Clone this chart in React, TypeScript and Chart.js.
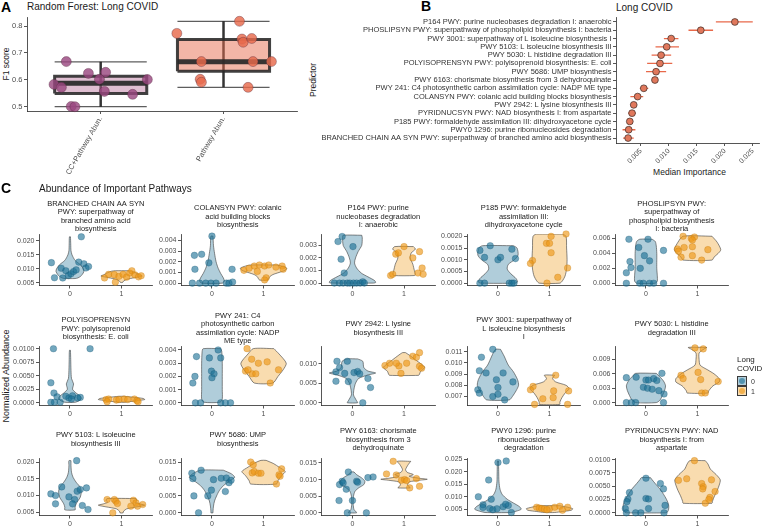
import React, { useEffect, useRef } from 'react';
import { Chart, registerables } from 'chart.js';

Chart.register(...registerables);
const FONT = "'Liberation Sans', Arial, Helvetica, sans-serif";
Chart.defaults.font.family = FONT;

// ---------------- Panel A data ----------------
const modelNames = ['CC+Pathway Abun.', 'Pathway Abun.'];
const f1Min = [0.5, 0.572];
const f1Q1 = [0.549, 0.632];
const f1Median = [0.587, 0.667];
const f1Q3 = [0.613, 0.75];
const f1Max = [0.667, 0.818];
const f1CCPathway = [[-0.28, 0.668], [-0.1, 0.624], [0.04, 0.628], [-0.38, 0.583], [-0.32, 0.572], [-0.01, 0.602], [0.03, 0.557], [0.26, 0.546], [0.38, 0.601], [-0.24, 0.501], [-0.21, 0.5]];
const f1Pathway = [[-0.38, 0.773], [-0.18, 0.668], [-0.19, 0.602], [-0.18, 0.591], [0.13, 0.818], [0.15, 0.752], [0.16, 0.74], [0.23, 0.754], [0.24, 0.668], [0.39, 0.668], [0.2, 0.572]];

// ---------------- Panel B data ----------------
const predictors = [
  'P164 PWY: purine nucleobases degradation I: anaerobic',
  'PHOSLIPSYN PWY: superpathway of phospholipid biosynthesis I: bacteria',
  'PWY 3001: superpathway of L isoleucine biosynthesis I',
  'PWY 5103: L isoleucine biosynthesis III',
  'PWY 5030: L histidine degradation III',
  'POLYISOPRENSYN PWY: polyisoprenoid biosynthesis: E. coli',
  'PWY 5686: UMP biosynthesis',
  'PWY 6163: chorismate biosynthesis from 3 dehydroquinate',
  'PWY 241: C4 photosynthetic carbon assimilation cycle: NADP ME type',
  'COLANSYN PWY: colanic acid building blocks biosynthesis',
  'PWY 2942: L lysine biosynthesis III',
  'PYRIDNUCSYN PWY: NAD biosynthesis I: from aspartate',
  'P185 PWY: formaldehyde assimilation III: dihydroxyacetone cycle',
  'PWY0 1296: purine ribonucleosides degradation',
  'BRANCHED CHAIN AA SYN PWY: superpathway of branched amino acid biosynthesis',
];
const medianImportance = [0.0218, 0.0157, 0.0104, 0.0096, 0.0086, 0.0084, 0.0077, 0.0075, 0.0055, 0.0044, 0.0037, 0.0034, 0.003, 0.0028, 0.0027];
const importanceLow = [0.0184, 0.0135, 0.0091, 0.0076, 0.0069, 0.0061, 0.0059, 0.0072, 0.0048, 0.0031, 0.0033, 0.0027, 0.0025, 0.0017, 0.0018];
const importanceHigh = [0.025, 0.0179, 0.0117, 0.0118, 0.0104, 0.0106, 0.0095, 0.0078, 0.0063, 0.0054, 0.0041, 0.0041, 0.0034, 0.004, 0.0037];
const importanceTicks = [0.005, 0.01, 0.015, 0.02, 0.025];

// ---------------- Panel C data ----------------
const pathwayTitles = [
  ['BRANCHED CHAIN AA SYN', 'PWY: superpathway of', 'branched amino acid', 'biosynthesis'],
  ['COLANSYN PWY: colanic', 'acid building blocks', 'biosynthesis'],
  ['P164 PWY: purine', 'nucleobases degradation', 'I: anaerobic'],
  ['P185 PWY: formaldehyde', 'assimilation III:', 'dihydroxyacetone cycle'],
  ['PHOSLIPSYN PWY:', 'superpathway of', 'phospholipid biosynthesis', 'I: bacteria'],
  ['POLYISOPRENSYN', 'PWY: polyisoprenoid', 'biosynthesis: E. coli'],
  ['PWY 241: C4', 'photosynthetic carbon', 'assimilation cycle: NADP', 'ME type'],
  ['PWY 2942: L lysine', 'biosynthesis III'],
  ['PWY 3001: superpathway of', 'L isoleucine biosynthesis', 'I'],
  ['PWY 5030: L histidine', 'degradation III'],
  ['PWY 5103: L isoleucine', 'biosynthesis III'],
  ['PWY 5686: UMP', 'biosynthesis'],
  ['PWY 6163: chorismate', 'biosynthesis from 3', 'dehydroquinate'],
  ['PWY0 1296: purine', 'ribonucleosides', 'degradation'],
  ['PYRIDNUCSYN PWY: NAD', 'biosynthesis I: from', 'aspartate'],
];
const yAxisLow = [0.004, -0.00022, -0.00019, -0.0001, -0.0003, -0.0005, -0.0002, -0.0007, 0.0062, -0.0006, 0.004, -0.0008, -0.0008, 0.0025, -0.0005];
const yAxisHigh = [0.0225, 0.0046, 0.0039, 0.0021, 0.0066, 0.0105, 0.0043, 0.0145, 0.0115, 0.0118, 0.0213, 0.0162, 0.0165, 0.0255, 0.0103];
const yTickLabels = [
  ['0.005', '0.010', '0.015', '0.020'],
  ['0.000', '0.001', '0.002', '0.003', '0.004'],
  ['0.000', '0.001', '0.002', '0.003'],
  ['0.0000', '0.0005', '0.0010', '0.0015', '0.0020'],
  ['0.000', '0.002', '0.004', '0.006'],
  ['0.0000', '0.0025', '0.0050', '0.0075', '0.0100'],
  ['0.000', '0.001', '0.002', '0.003', '0.004'],
  ['0.000', '0.005', '0.010'],
  ['0.007', '0.008', '0.009', '0.010', '0.011'],
  ['0.000', '0.003', '0.006', '0.009'],
  ['0.005', '0.010', '0.015', '0.020'],
  ['0.000', '0.005', '0.010', '0.015'],
  ['0.000', '0.005', '0.010', '0.015'],
  ['0.005', '0.010', '0.015', '0.020', '0.025'],
  ['0.0000', '0.0025', '0.0050', '0.0075', '0.0100'],
];
const groupLabels = ['0', '1'];

// violin outlines: [abundance, half width] from top to bottom
const violinNoCovid = [
  [[0.0215, 0.01], [0.019, 0.015], [0.0165, 0.02], [0.015, 0.04], [0.013, 0.1], [0.0115, 0.2], [0.01, 0.26], [0.009, 0.27], [0.008, 0.24], [0.0072, 0.2], [0.0067, 0.15], [0.0065, 0.1]],
  [[0.0044, 0.02], [0.0035, 0.03], [0.0028, 0.05], [0.002, 0.08], [0.0014, 0.12], [0.0009, 0.17], [0.0005, 0.22], [0.0002, 0.24], [0.0, 0.2]],
  [[0.0038, 0.18], [0.0036, 0.19], [0.003, 0.18], [0.0025, 0.11], [0.002, 0.06], [0.0016, 0.04], [0.0012, 0.08], [0.0008, 0.17], [0.0005, 0.3], [0.0002, 0.43], [0.00005, 0.45], [0.0, 0.4]],
  [[0.0016, 0.3], [0.0015, 0.37], [0.0012, 0.39], [0.001, 0.32], [0.0008, 0.2], [0.0006, 0.18], [0.0004, 0.25], [0.0002, 0.35], [0.00005, 0.38], [0.0, 0.33]],
  [[0.0059, 0.12], [0.0056, 0.18], [0.005, 0.2], [0.004, 0.21], [0.003, 0.21], [0.002, 0.21], [0.001, 0.22], [0.0003, 0.22], [0.0, 0.18]],
  [[0.0097, 0.01], [0.008, 0.015], [0.006, 0.02], [0.0045, 0.03], [0.0035, 0.07], [0.003, 0.06], [0.0025, 0.05], [0.0018, 0.12], [0.0012, 0.2], [0.0008, 0.22], [0.0004, 0.18], [0.0001, 0.1]],
  [[0.0041, 0.17], [0.0039, 0.19], [0.003, 0.2], [0.002, 0.2], [0.001, 0.2], [0.0003, 0.2], [0.00005, 0.16]],
  [[0.0112, 0.1], [0.0106, 0.2], [0.009, 0.22], [0.0081, 0.3], [0.0076, 0.45], [0.0071, 0.3], [0.0062, 0.12], [0.005, 0.06], [0.0035, 0.03], [0.002, 0.02], [0.0012, 0.05], [0.0005, 0.08], [0.0, 0.1]],
  [[0.0112, 0.05], [0.0106, 0.12], [0.0098, 0.2], [0.0092, 0.3], [0.0085, 0.38], [0.008, 0.4], [0.0075, 0.35], [0.007, 0.28], [0.0067, 0.22]],
  [[0.0061, 0.2], [0.0055, 0.26], [0.0045, 0.34], [0.0035, 0.38], [0.0025, 0.36], [0.0015, 0.32], [0.0005, 0.27], [0.0, 0.2]],
  [[0.0205, 0.02], [0.019, 0.02], [0.017, 0.03], [0.0155, 0.06], [0.014, 0.12], [0.0125, 0.2], [0.011, 0.22], [0.0095, 0.2], [0.0085, 0.16], [0.0075, 0.12], [0.0065, 0.1], [0.0057, 0.1]],
  [[0.0126, 0.22], [0.0115, 0.38], [0.0105, 0.44], [0.0095, 0.35], [0.008, 0.22], [0.0065, 0.14], [0.005, 0.09], [0.0035, 0.05], [0.002, 0.03], [0.0005, 0.02], [0.0, 0.02]],
  [[0.0123, 0.03], [0.0115, 0.08], [0.0105, 0.18], [0.0095, 0.24], [0.0085, 0.22], [0.0075, 0.12], [0.0065, 0.05], [0.005, 0.02], [0.0025, 0.015], [0.001, 0.03], [0.0003, 0.07], [0.0, 0.08]],
  [[0.0243, 0.01], [0.02, 0.015], [0.016, 0.02], [0.013, 0.04], [0.011, 0.08], [0.009, 0.18], [0.0075, 0.3], [0.006, 0.42], [0.005, 0.45], [0.0042, 0.35], [0.0037, 0.25]],
  [[0.0066, 0.09], [0.0062, 0.12], [0.0055, 0.18], [0.0045, 0.27], [0.0035, 0.34], [0.0025, 0.4], [0.0015, 0.44], [0.0007, 0.44], [0.0002, 0.42], [0.0, 0.38]],
];
const violinCovid = [
  [[0.0093, 0.12], [0.0091, 0.2], [0.0085, 0.28], [0.0078, 0.35], [0.0074, 0.4], [0.0068, 0.25], [0.0062, 0.1], [0.0056, 0.04], [0.0051, 0.02]],
  [[0.0017, 0.25], [0.0016, 0.35], [0.0014, 0.45], [0.0012, 0.42], [0.001, 0.3], [0.0008, 0.18], [0.0006, 0.12], [0.0003, 0.08]],
  [[0.0029, 0.18], [0.0027, 0.22], [0.0024, 0.14], [0.002, 0.12], [0.0015, 0.17], [0.001, 0.2], [0.0007, 0.22], [0.0006, 0.2]],
  [[0.0021, 0.25], [0.002, 0.32], [0.0015, 0.33], [0.001, 0.34], [0.0006, 0.33], [0.0003, 0.3], [0.0001, 0.25], [0.0, 0.2]],
  [[0.0063, 0.28], [0.0055, 0.38], [0.0045, 0.45], [0.004, 0.4], [0.0035, 0.32], [0.0031, 0.28]],
  [[0.0012, 0.05], [0.001, 0.25], [0.0008, 0.42], [0.0006, 0.45], [0.0004, 0.3], [0.0002, 0.15], [0.0001, 0.05]],
  [[0.0041, 0.2], [0.0037, 0.3], [0.003, 0.44], [0.0025, 0.38], [0.002, 0.28], [0.0015, 0.18]],
  [[0.0128, 0.03], [0.012, 0.12], [0.011, 0.22], [0.0098, 0.34], [0.009, 0.4], [0.008, 0.32], [0.0073, 0.3], [0.007, 0.28]],
  [[0.0089, 0.1], [0.0086, 0.06], [0.0083, 0.12], [0.008, 0.32], [0.0077, 0.38], [0.0073, 0.3], [0.0069, 0.24], [0.0065, 0.2], [0.0063, 0.2]],
  [[0.0115, 0.18], [0.011, 0.1], [0.0103, 0.03], [0.009, 0.03], [0.0078, 0.05], [0.0068, 0.2], [0.006, 0.32], [0.005, 0.42], [0.0043, 0.42], [0.0035, 0.3], [0.0025, 0.22], [0.002, 0.2]],
  [[0.0091, 0.28], [0.0085, 0.3], [0.008, 0.27], [0.0075, 0.35], [0.0071, 0.45], [0.0066, 0.3], [0.006, 0.1], [0.0053, 0.04], [0.0048, 0.03]],
  [[0.0155, 0.05], [0.0145, 0.2], [0.0135, 0.3], [0.0122, 0.42], [0.011, 0.35], [0.0095, 0.28], [0.0085, 0.25]],
  [[0.0155, 0.13], [0.0145, 0.08], [0.013, 0.03], [0.0122, 0.06], [0.0115, 0.18], [0.011, 0.1], [0.0104, 0.3], [0.0101, 0.45], [0.0098, 0.3], [0.0093, 0.1], [0.0085, 0.07], [0.0078, 0.1], [0.0075, 0.12]],
  [[0.0064, 0.2], [0.0058, 0.35], [0.0052, 0.45], [0.0046, 0.42], [0.0041, 0.25], [0.0037, 0.1]],
  [[0.0098, 0.15], [0.0092, 0.2], [0.0082, 0.25], [0.0072, 0.36], [0.0062, 0.44], [0.0052, 0.42], [0.0042, 0.38], [0.0032, 0.33], [0.0022, 0.29], [0.0018, 0.28]],
];
// jittered samples: [offset from group, abundance]
const pointsNoCovid = [
  [[-0.36, 0.0122], [-0.3, 0.0068], [-0.17, 0.0102], [-0.14, 0.0067], [-0.08, 0.0093], [-0.03, 0.0076], [0.02, 0.0082], [0.07, 0.009], [0.12, 0.0096], [0.17, 0.0124], [0.22, 0.0215], [0.27, 0.0118], [0.31, 0.0103], [0.36, 0.0108]],
  [[0, 0.0044], [-0.34, 0.0026], [-0.2, 0.0027], [-0.06, 0.0019], [-0.33, 0.0013], [0.39, 0.0013], [-0.38, 0], [-0.24, 0], [-0.12, 0], [-0.02, 0], [0.08, 0], [0.28, 0], [0.33, 0], [0.4, 0.0001]],
  [[-0.28, 0.0033], [-0.2, 0.0037], [0.01, 0.0029], [-0.22, 0.0019], [-0.16, 0.0008], [-0.35, 0], [-0.25, 0], [-0.18, 0], [-0.1, 0], [-0.05, 0], [0.02, 0], [0.08, 0], [0.15, 0], [0.2, 0.0001], [0.23, 0]],
  [[-0.35, 0.0014], [-0.26, 0.0011], [-0.15, 0.0016], [0.0, 0.001], [0.05, 0.0011], [0.27, 0.00145], [0.34, 0.00105], [-0.35, 0], [-0.26, 0], [0.22, 0], [0.27, 0], [0.31, 0]],
  [[-0.33, 0.0059], [-0.14, 0.0048], [0.04, 0.0059], [-0.03, 0.0037], [0.07, 0.003], [-0.31, 0.0029], [-0.29, 0.0021], [-0.11, 0.002], [-0.38, 0.0014], [0.34, 0.0044], [-0.38, 0], [-0.12, 0], [-0.05, 0], [0.07, 0], [0.15, 0], [0.34, 0]],
  [[-0.32, 0.01], [0.39, 0.01], [-0.37, 0.0037], [-0.31, 0.0018], [-0.25, 0.0011], [-0.37, 0.0001], [-0.3, 0.0001], [-0.08, 0.0012], [-0.02, 0.0009], [0.05, 0.0013], [0.15, 0.0009], [0.2, 0.001], [-0.19, 0.0001], [0.03, 0.0007]],
  [[-0.3, 0.0035], [-0.05, 0.0034], [0.17, 0.0034], [-0.01, 0.0024], [0.04, 0.0022], [-0.33, 0.002], [0.0, 0.0019], [-0.37, 0.0015], [-0.32, 0], [-0.22, 0], [0.17, 0], [0.26, 0], [0.36, 0], [0.12, 0.004]],
  [[-0.3, 0.0106], [-0.1, 0.0106], [-0.32, 0.0079], [-0.15, 0.0075], [-0.08, 0.0054], [-0.32, 0.0055], [0.03, 0.0077], [0.1, 0.008], [0.14, 0.0074], [0.3, 0.0062], [0.35, 0.0039], [0.2, 0.0], [-0.25, 0.009]],
  [[-0.32, 0.0105], [-0.1, 0.0112], [-0.36, 0.0093], [-0.23, 0.0091], [-0.03, 0.0085], [0.0, 0.0078], [-0.39, 0.0076], [-0.36, 0.0073], [-0.1, 0.007], [0.0, 0.0072], [0.1, 0.0091], [0.29, 0.0083], [0.13, 0.0067]],
  [[-0.38, 0.0052], [-0.19, 0.0053], [0.31, 0.0061], [0.0, 0.0047], [0.05, 0.0047], [0.15, 0.005], [0.21, 0.0046], [-0.05, 0.0032], [0.03, 0.003], [0.12, 0.0028], [0.25, 0.0025], [0.35, 0.0018], [-0.38, 0], [-0.28, 0], [-0.2, 0], [0.34, 0]],
  [[0.13, 0.0205], [-0.37, 0.0105], [-0.28, 0.01], [-0.28, 0.0075], [-0.16, 0.0126], [-0.02, 0.0096], [0.09, 0.0088], [0.24, 0.007], [0.14, 0.0113], [0.2, 0.0118], [0.32, 0.0123], [0.35, 0.0058], [0.05, 0.0075]],
  [[-0.39, 0.0117], [-0.21, 0.0126], [-0.37, 0.0101], [-0.35, 0.005], [-0.26, 0.0], [0.03, 0.0098], [0.18, 0.0102], [0.28, 0.0103], [0.33, 0.0089], [0.37, 0.0096], [0.26, 0.0063], [-0.01, 0.0067], [-0.08, 0.005]],
  [[-0.08, 0.0123], [-0.25, 0.0085], [-0.2, 0.0095], [-0.18, 0.009], [0.08, 0.0095], [0.1, 0.0092], [-0.12, 0.0071], [-0.26, 0.0037], [-0.1, 0], [0.27, 0], [0.3, 0.0106], [0.4, 0.0108], [0.0, 0.0037]],
  [[-0.38, 0.01], [-0.29, 0.0068], [-0.13, 0.009], [0.0, 0.0237], [0.16, 0.0243], [-0.18, 0.0167], [-0.29, 0.0057], [-0.16, 0.0053], [-0.1, 0.0048], [0.1, 0.006], [0.2, 0.0065], [0.15, 0.007], [0.26, 0.0037], [-0.02, 0.0052]],
  [[-0.4, 0.0008], [-0.32, 0.0038], [-0.35, 0.0026], [-0.37, 0.0021], [0.0, 0.0065], [0.28, 0.0055], [0.34, 0.0045], [0.0, 0.0027], [0.05, 0.0026], [0.05, 0.0008], [0.37, 0.0014], [-0.2, 0], [-0.1, 0], [0.35, 0], [-0.38, 0]],
];
const pointsCovid = [
  [[-0.33, 0.0067], [-0.25, 0.008], [-0.14, 0.0079], [-0.12, 0.0052], [-0.05, 0.0073], [0.03, 0.008], [0.1, 0.007], [0.16, 0.0085], [0.2, 0.0093], [0.26, 0.0078], [0.33, 0.0071], [0.38, 0.0075]],
  [[-0.38, 0.0012], [-0.28, 0.0014], [-0.18, 0.0016], [-0.08, 0.0017], [0.02, 0.0016], [0.1, 0.0017], [0.24, 0.0015], [0.36, 0.0016], [0.38, 0.0013], [0.05, 0.0005], [0.02, 0.0003], [-0.12, 0.0011]],
  [[-0.16, 0.0023], [-0.11, 0.0024], [0.0, 0.0029], [0.17, 0.002], [0.3, 0.0025], [-0.26, 0.0006], [-0.22, 0.0007], [0.27, 0.0008], [0.37, 0.0007], [0.35, 0.0012]],
  [[0.03, 0.002], [0.32, 0.0021], [-0.06, 0.0017], [0.0, 0.0017], [0.03, 0.0013], [-0.33, 0.00097], [-0.37, 0.00084], [0.35, 0.00065], [0.16, 0.00025], [-0.05, 0]],
  [[-0.28, 0.0063], [-0.12, 0.006], [-0.06, 0.0062], [-0.1, 0.0058], [-0.39, 0.0046], [-0.26, 0.0048], [-0.1, 0.0049], [-0.37, 0.0043], [0.2, 0.0045], [-0.32, 0.0035], [-0.1, 0.0037], [0.08, 0.0031]],
  [[-0.3, 0.0006], [-0.25, 0.0007], [-0.1, 0.0005], [-0.05, 0.0006], [0.05, 0.0007], [0.12, 0.0006], [0.25, 0.0007], [0.3, 0.0004], [-0.28, 0.0002], [0.32, 0.0002]],
  [[-0.1, 0.003], [0.07, 0.0031], [0.29, 0.0025], [-0.22, 0.0022], [-0.15, 0.0022], [-0.32, 0.0041], [-0.35, 0.0024], [-0.3, 0.0025], [-0.23, 0.0033], [0.13, 0.0015]],
  [[-0.37, 0.0095], [-0.28, 0.0101], [-0.1, 0.0094], [-0.06, 0.0075], [0.05, 0.0101], [0.17, 0.0119], [0.24, 0.0116], [0.3, 0.0128], [0.3, 0.0093], [0.34, 0.0088], [-0.15, 0.0101]],
  [[0.12, 0.0089], [-0.32, 0.0079], [-0.37, 0.0076], [0.08, 0.0075], [0.37, 0.0075], [-0.13, 0.0068], [0.07, 0.0069], [-0.29, 0.0063], [0.35, 0.0063]],
  [[-0.05, 0.0114], [0.11, 0.0112], [-0.32, 0.0057], [0.01, 0.0063], [-0.28, 0.005], [0.06, 0.0048], [0.4, 0.0044], [0.08, 0.002], [0.15, 0.002]],
  [[-0.28, 0.0088], [-0.14, 0.0088], [-0.11, 0.0083], [-0.08, 0.0076], [0.23, 0.0086], [0.28, 0.0078], [0.18, 0.0068], [0.31, 0.0068], [0.41, 0.0073], [-0.17, 0.0048]],
  [[-0.25, 0.015], [-0.2, 0.0142], [-0.22, 0.0118], [-0.18, 0.0122], [-0.1, 0.0117], [-0.05, 0.0117], [0.3, 0.0112], [0.32, 0.0108], [0.35, 0.013], [0.25, 0.0085]],
  [[-0.21, 0.0155], [-0.34, 0.0117], [-0.15, 0.0114], [-0.05, 0.0098], [0.01, 0.01], [0.05, 0.0097], [0.24, 0.0103], [0.11, 0.0075], [0.3, 0.008]],
  [[-0.25, 0.0058], [-0.2, 0.0055], [-0.15, 0.0053], [-0.1, 0.0051], [0.0, 0.0052], [0.1, 0.0058], [0.2, 0.0062], [0.35, 0.0058], [0.25, 0.0046], [-0.05, 0.0048]],
  [[-0.06, 0.0098], [-0.37, 0.0061], [-0.21, 0.0064], [0.08, 0.0055], [0.11, 0.0049], [0.1, 0.0045], [0.27, 0.0062], [0.34, 0.004], [0.24, 0.0029], [0.22, 0.0025], [0.15, 0.0018]],
];

// ---------------- helpers ----------------
const AX = '#2b2b2b';
const TICK_TXT = '#4d4d4d';

function fixYAxis(w: number) {
  return (s: any) => {
    s.width = w;
    s.paddingTop = 0; s.paddingBottom = 0; s.paddingLeft = 0; s.paddingRight = 0;
  };
}
function fixXAxis(h: number) {
  return (s: any) => {
    s.height = h;
    s.paddingTop = 0; s.paddingBottom = 0; s.paddingLeft = 0; s.paddingRight = 0;
  };
}
function axisStyle() {
  return {
    grid: { display: true, drawOnChartArea: false, drawTicks: true, tickLength: 3, color: AX, lineWidth: 0.8 },
    border: { display: true, color: AX, width: 0.8 },
  };
}
function linearAxis(min: number, max: number, values: number[], labels: string[], fixer: any, size: number, extra: any = {}) {
  return {
    type: 'linear',
    min, max,
    afterBuildTicks: (s: any) => { s.ticks = values.map((v) => ({ value: v })); },
    afterFit: fixer,
    ticks: { autoSkip: false, color: TICK_TXT, font: { size }, padding: 1.5, callback: (_v: any, i: number) => labels[i], ...(extra.ticks || {}) },
    ...axisStyle(),
    ...(extra.rest || {}),
  };
}
const basePlugins = { legend: { display: false }, tooltip: { enabled: false }, title: { display: false } };

function ChartCanvas({ left, top, width, height, build }: { left: number; top: number; width: number; height: number; build: () => any }) {
  const ref = useRef<HTMLCanvasElement | null>(null);
  useEffect(() => {
    if (!ref.current) return;
    const chart = new Chart(ref.current, build());
    return () => chart.destroy();
  }, []);
  return <canvas ref={ref} width={width} height={height} style={{ position: 'absolute', left, top, width, height }} />;
}

function Txt({ s, x, y, size, weight, align, rotate, color }: { s: string; x: number; y: number; size: number; weight?: number; align?: 'left' | 'center' | 'right'; rotate?: boolean; color?: string }) {
  const tx = align === 'center' ? '-50%' : align === 'right' ? '-100%' : '0';
  return (
    <div style={{ position: 'absolute', left: x, top: y, whiteSpace: 'nowrap', fontFamily: FONT, fontSize: size, fontWeight: weight || 400, lineHeight: 1, color: color || '#1a1a1a', transform: rotate ? 'translate(-50%,-50%) rotate(-90deg)' : `translate(${tx},-50%)` }}>{s}</div>
  );
}

// ---------------- Panel A ----------------
function buildA() {
  const pts = [f1CCPathway, f1Pathway];
  const pointCol = ['rgba(154,72,128,0.82)', 'rgba(232,106,76,0.82)'];
  const boxCol = ['rgba(183,110,152,0.45)', 'rgba(232,110,80,0.5)'];
  const ds: any[] = [];
  const half = 0.375;
  modelNames.forEach((_, i) => {
    const c = i + 1;
    ds.push({ data: pts[i].map(([dx, y]) => ({ x: c + dx, y })), showLine: false, pointRadius: 5, pointBackgroundColor: pointCol[i], pointBorderColor: 'rgba(80,40,60,0.45)', pointBorderWidth: 0.8, order: 0, clip: false });
    ds.push({ data: [{ x: c - half, y: f1Median[i] }, { x: c + half, y: f1Median[i] }], borderColor: 'rgba(40,40,40,0.92)', borderWidth: 5, pointRadius: 0, order: 1 });
    ds.push({ data: [{ x: c - half, y: f1Q1[i] }, { x: c + half, y: f1Q1[i] }, { x: c + half, y: f1Q3[i] }, { x: c - half, y: f1Q3[i] }, { x: c - half, y: f1Q1[i] }], borderColor: 'rgba(40,40,40,0.88)', borderWidth: 3, backgroundColor: boxCol[i], fill: 'shape', pointRadius: 0, tension: 0, order: 2 });
    ds.push({ data: [{ x: c, y: f1Min[i] }, { x: c, y: f1Max[i] }], borderColor: 'rgba(30,30,30,0.9)', borderWidth: 2.5, pointRadius: 0, order: 3 });
    ds.push({ data: [{ x: c - half, y: f1Min[i] }, { x: c + half, y: f1Min[i] }], borderColor: 'rgba(40,40,40,0.75)', borderWidth: 1.3, pointRadius: 0, order: 3 });
    ds.push({ data: [{ x: c - half, y: f1Max[i] }, { x: c + half, y: f1Max[i] }], borderColor: 'rgba(40,40,40,0.75)', borderWidth: 1.3, pointRadius: 0, order: 3 });
  });
  return {
    type: 'line',
    data: { datasets: ds },
    options: {
      responsive: false, animation: false, events: [],
      layout: { padding: { top: 6, left: 0, right: 2, bottom: 0 } },
      plugins: basePlugins,
      scales: {
        x: linearAxis(0.4, 2.6, [1, 2], modelNames, fixXAxis(75), 7.5, { ticks: { minRotation: 60, maxRotation: 60, padding: 1 } }),
        y: linearAxis(0.484, 0.834, [0.5, 0.6, 0.7, 0.8], ['0.5', '0.6', '0.7', '0.8'], fixYAxis(27), 7.5),
      },
    },
  };
}

// ---------------- Panel B ----------------
function buildB() {
  const ds: any[] = [];
  ds.push({ data: medianImportance.map((v, i) => ({ x: v, y: i + 1 })), showLine: false, pointRadius: 3.4, pointBackgroundColor: '#e0785c', pointBorderColor: '#3a2a25', pointBorderWidth: 0.7, order: 0, clip: false });
  predictors.forEach((_, i) => {
    ds.push({ data: [{ x: importanceLow[i], y: i + 1 }, { x: importanceHigh[i], y: i + 1 }], borderColor: '#e8694a', borderWidth: 1.3, pointRadius: 0, order: 1 });
  });
  return {
    type: 'line',
    data: { datasets: ds },
    options: {
      responsive: false, animation: false, events: [],
      layout: { padding: { top: 6, left: 0, right: 1, bottom: 0 } },
      plugins: basePlugins,
      scales: {
        x: linearAxis(0.00053, 0.02617, importanceTicks, importanceTicks.map((v) => v.toFixed(3)), fixXAxis(22), 7, { ticks: { minRotation: 45, maxRotation: 45, padding: 1 } }),
        y: linearAxis(0.4, 15.6, predictors.map((_, i) => i + 1), predictors, fixYAxis(316), 7.5, { rest: { reverse: true }, ticks: { color: '#333' } }),
      },
    },
  };
}

// ---------------- Panel C ----------------
const colAxisX = [39, 181, 321.5, 467, 615];
const rowTop = [234, 346, 458];
const rowBottom = [285.5, 405.5, 515.5];
const rowTitleY = [216.5, 328.5, 439.5];
const PANEL_W = 113.5;
const Y_W = 34;
const X_H = 13;
const TITLE_LH = 8.3;

function violinPoly(center: number, shape: number[][]) {
  const right = shape.map(([y, hw]) => ({ x: center + hw, y }));
  const left = shape.slice().reverse().map(([y, hw]) => ({ x: center - hw, y }));
  return [...right, ...left, right[0]];
}

function panelGeom(i: number) {
  const r = Math.floor(i / 5), c = i % 5;
  const axisX = colAxisX[c];
  const left = Math.floor(axisX - Y_W);
  const yW = axisX - left;
  const width = Math.ceil(yW + PANEL_W + 5);
  const padR = width - yW - PANEL_W;
  const top = Math.floor(rowTitleY[r] - 22);
  const padT = rowTop[r] - top;
  const plotH = rowBottom[r] - rowTop[r];
  const height = Math.ceil(padT + plotH + X_H);
  const padB = height - padT - plotH - X_H;
  return { r, c, axisX, left, yW, width, padR, top, padT, height, padB };
}

function titlePlugin(lines: string[], centerY: number) {
  return {
    id: 'panelTitle',
    afterDraw(chart: any) {
      const { ctx, chartArea } = chart;
      ctx.save();
      ctx.font = `7.5px ${FONT}`;
      ctx.fillStyle = '#1a1a1a';
      ctx.textAlign = 'center';
      ctx.textBaseline = 'middle';
      const cx = (chartArea.left + chartArea.right) / 2;
      const y0 = centerY - ((lines.length - 1) * TITLE_LH) / 2;
      lines.forEach((ln, j) => ctx.fillText(ln, cx, y0 + j * TITLE_LH));
      ctx.restore();
    },
  };
}

function buildViolin(i: number) {
  const g = panelGeom(i);
  const fills = ['rgba(28,113,150,0.35)', 'rgba(238,154,26,0.35)'];
  const pcol = ['rgba(28,113,150,0.62)', 'rgba(238,154,26,0.66)'];
  const pborder = ['rgba(20,80,110,0.55)', 'rgba(190,115,10,0.55)'];
  const shapes = [violinNoCovid[i], violinCovid[i]];
  const pts = [pointsNoCovid[i], pointsCovid[i]];
  const ds: any[] = [];
  [0, 1].forEach((k) => {
    ds.push({ data: pts[k].map(([dx, y]) => ({ x: k + dx, y })), showLine: false, pointRadius: 3.3, pointBackgroundColor: pcol[k], pointBorderColor: pborder[k], pointBorderWidth: 0.5, order: 0, clip: false });
  });
  [0, 1].forEach((k) => {
    ds.push({ data: violinPoly(k, shapes[k]), borderColor: '#3a3a3a', borderWidth: 0.6, backgroundColor: fills[k], fill: 'shape', pointRadius: 0, tension: 0.25, order: 1 });
  });
  const labels = yTickLabels[i];
  return {
    type: 'line',
    data: { datasets: ds },
    plugins: [titlePlugin(pathwayTitles[i], rowTitleY[g.r] - g.top)],
    options: {
      responsive: false, animation: false, events: [],
      layout: { padding: { top: g.padT, left: 0, right: g.padR, bottom: g.padB } },
      plugins: basePlugins,
      scales: {
        x: linearAxis(-0.6, 1.6, [0, 1], groupLabels, fixXAxis(X_H), 7),
        y: linearAxis(yAxisLow[i], yAxisHigh[i], labels.map((s) => parseFloat(s)), labels, fixYAxis(g.yW), 7),
      },
    },
  };
}

export default function App() {
  return (
    <div style={{ position: 'absolute', left: 0, top: 0, width: 764, height: 527, background: '#fff', overflow: 'hidden' }}>
      {/* Panel A */}
      <Txt s="A" x={1} y={7} size={14} weight={700} color="#000" />
      <Txt s="Random Forest: Long COVID" x={27} y={7} size={10} />
      <Txt s="F1 score" x={5.5} y={64} size={8.5} rotate />
      <ChartCanvas left={0} top={11} width={303} height={175} build={buildA} />

      {/* Panel B */}
      <Txt s="B" x={421} y={6} size={14} weight={700} color="#000" />
      <Txt s="Long COVID" x={616} y={7.5} size={10} />
      <Txt s="Predictor" x={313} y={80} size={8.5} rotate />
      <Txt s="Median Importance" x={689.5} y={171.5} size={8.5} align="center" />
      <ChartCanvas left={300} top={11} width={464} height={154} build={buildB} />

      {/* Panel C */}
      <Txt s="C" x={1} y={188} size={14} weight={700} color="#000" />
      <Txt s="Abundance of Important Pathways" x={39} y={189} size={10} />
      <Txt s="Normalized Abundance" x={5.5} y={376} size={9} rotate />
      {pathwayTitles.map((_, i) => {
        const g = panelGeom(i);
        return <ChartCanvas key={`c${i}`} left={g.left} top={g.top} width={g.width} height={g.height} build={() => buildViolin(i)} />;
      })}

      {/* Legend */}
      <Txt s="Long" x={737} y={360} size={8} />
      <Txt s="COVID" x={737} y={368.5} size={8} />
      <div style={{ position: 'absolute', left: 737, top: 376, width: 8, height: 8, background: 'rgba(28,113,150,0.35)', border: '0.7px solid #3a3a3a' }}>
        <div style={{ position: 'absolute', left: 1, top: 1, width: 6, height: 6, borderRadius: 3, background: 'rgba(28,113,150,0.62)' }} />
      </div>
      <div style={{ position: 'absolute', left: 737, top: 386, width: 8, height: 8, background: 'rgba(238,154,26,0.35)', border: '0.7px solid #3a3a3a' }}>
        <div style={{ position: 'absolute', left: 1, top: 1, width: 6, height: 6, borderRadius: 3, background: 'rgba(238,154,26,0.66)' }} />
      </div>
      <Txt s="0" x={751} y={380.5} size={7} color="#333" />
      <Txt s="1" x={751} y={390.5} size={7} color="#333" />
    </div>
  );
}
